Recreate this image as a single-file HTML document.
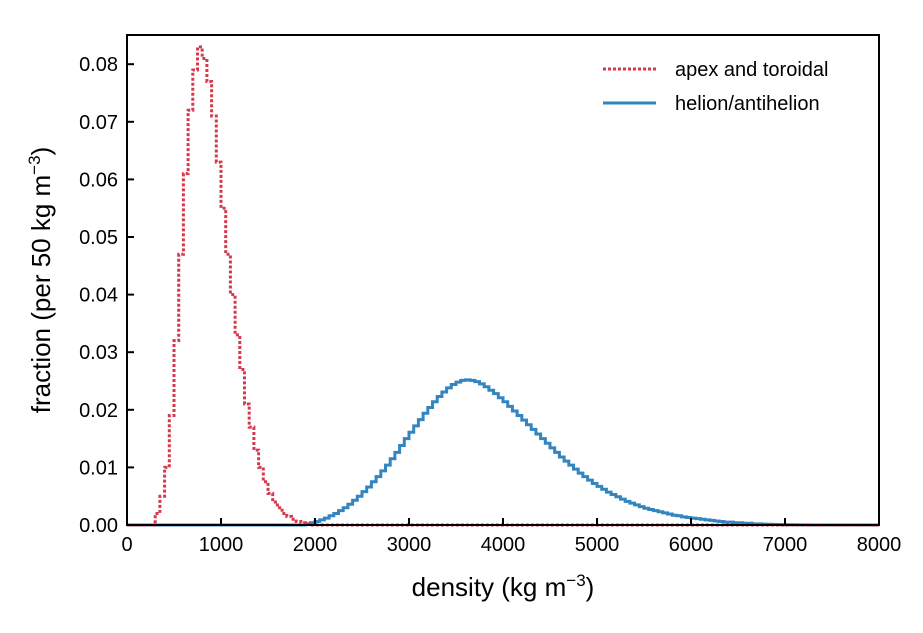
<!DOCTYPE html>
<html><head><meta charset="utf-8"><style>
html,body{margin:0;padding:0;background:#fff;}
svg text{font-family:"Liberation Sans",sans-serif;fill:#000;}
</style></head><body>
<svg id="chart" width="923" height="628" viewBox="0 0 923 628" xmlns="http://www.w3.org/2000/svg">
<g id="plot"></g>
<g id="axes"></g>
</svg>
<script>
const xTicks=[0,1000,2000,3000,4000,5000,6000,7000,8000];
const yTicks=[0,0.01,0.02,0.03,0.04,0.05,0.06,0.07,0.08];
const yTickLabels=["0.00","0.01","0.02","0.03","0.04","0.05","0.06","0.07","0.08"];
const redStart=300, redWidth=50;
const redValues=[0.002,0.005,0.010,0.019,0.032,0.047,0.061,0.072,0.079,0.083,0.081,0.077,0.071,0.063,0.055,0.047,0.040,0.033,0.027,0.021,0.017,0.013,0.010,0.0075,0.0055,0.004,0.003,0.002,0.0015,0.001,0.0006,0.0004,0.0002];
const blueStart=1900, blueWidth=50;
const blueValues=[0.0001,0.0004,0.0006,0.0009,0.0012,0.0016,0.0020,0.0025,0.0030,0.0036,0.0043,0.0050,0.0058,0.0066,0.0075,0.0084,0.0094,0.0104,0.0115,0.0126,0.0138,0.0150,0.0161,0.0172,0.0183,0.0194,0.0204,0.0214,0.0223,0.0231,0.0238,0.0244,0.0248,0.0251,0.0252,0.0251,0.0249,0.0245,0.0240,0.0234,0.0228,0.0221,0.0214,0.0206,0.0198,0.0190,0.0182,0.0174,0.0166,0.0158,0.0150,0.0142,0.0134,0.0126,0.0118,0.0111,0.0104,0.0097,0.0090,0.0084,0.0078,0.0072,0.0067,0.0062,0.0057,0.0053,0.0049,0.0045,0.0041,0.0038,0.0035,0.0032,0.0029,0.0027,0.0025,0.0023,0.0021,0.0019,0.0017,0.0016,0.0014,0.0013,0.0012,0.0011,0.0010,0.0009,0.0008,0.0007,0.0006,0.0005,0.0005,0.0004,0.0004,0.0003,0.0003,0.0002,0.0002,0.00015,0.00012,0.0001,0.00008,0.00006,0.00005,0.00004,0.00003,0.00002,0.00002,0.00001,0.00001];
const L=127,R=879,T=35,B=525;
const sx=v=>L+(v-0)/(8000-0)*(R-L);
const sy=v=>B-v/0.01*57.6;
const NS="http://www.w3.org/2000/svg";
const plot=document.getElementById('plot'), axes=document.getElementById('axes');
function mk(tag,attrs,parent){const e=document.createElementNS(NS,tag);for(const k in attrs)e.setAttribute(k,attrs[k]);parent.appendChild(e);return e;}
function stepPath(start,w,vals){
  let d=`M${sx(0)},${sy(0)} L${sx(start)},${sy(0)}`;
  vals.forEach((v,i)=>{const x0=sx(start+i*w),x1=sx(start+(i+1)*w);d+=` L${x0},${sy(v)} L${x1},${sy(v)}`;});
  d+=` L${sx(start+vals.length*w)},${sy(0)} L${sx(8000)},${sy(0)}`;return d;
}
const blue=mk('path',{d:stepPath(blueStart,blueWidth,blueValues),fill:'none',stroke:'#3385c0','stroke-width':3},plot);


const red=mk('path',{d:stepPath(redStart,redWidth,redValues),fill:'none',stroke:'#d6394c','stroke-width':3,'stroke-dasharray':'3,2'},plot);


const frame=mk('rect',{x:L,y:T,width:R-L,height:B-T,fill:'none',stroke:'#000','stroke-width':2},axes);


xTicks.forEach(t=>{
  mk('line',{x1:sx(t),x2:sx(t),y1:B,y2:B-7,stroke:'#000','stroke-width':2},axes);
  const tx=mk('text',{x:sx(t),y:B+26,'text-anchor':'middle','font-size':20},axes);tx.textContent=t;
  
  
});
yTicks.forEach((t,i)=>{
  mk('line',{x1:L,x2:L+7,y1:sy(t),y2:sy(t),stroke:'#000','stroke-width':2},axes);
  const tx=mk('text',{x:L-9,y:sy(t)+7,'text-anchor':'end','font-size':20},axes);tx.textContent=yTickLabels[i];
  
  
});
</script>
<svg style="position:absolute;left:0;top:0" width="923" height="628">
<text x="503" y="596" text-anchor="middle" font-size="26" style="font-family:'Liberation Sans',sans-serif">density (kg m<tspan dy="-10" font-size="17">−3</tspan><tspan dy="10">)</tspan></text>
<text transform="translate(50,280) rotate(-90)" text-anchor="middle" font-size="26" style="font-family:'Liberation Sans',sans-serif">fraction (per 50 kg m<tspan dy="-10" font-size="17">−3</tspan><tspan dy="10">)</tspan></text>
<g>
<line x1="603" y1="69" x2="656" y2="69" stroke="#d6394c" stroke-width="3" stroke-dasharray="3,2"/>
<text x="675" y="76" font-size="20" style="font-family:'Liberation Sans',sans-serif">apex and toroidal</text>
<line x1="603" y1="103" x2="656" y2="103" stroke="#3385c0" stroke-width="3"/>
<text x="675" y="110" font-size="20" style="font-family:'Liberation Sans',sans-serif">helion/antihelion</text>
</g>
</svg>
</body></html>
